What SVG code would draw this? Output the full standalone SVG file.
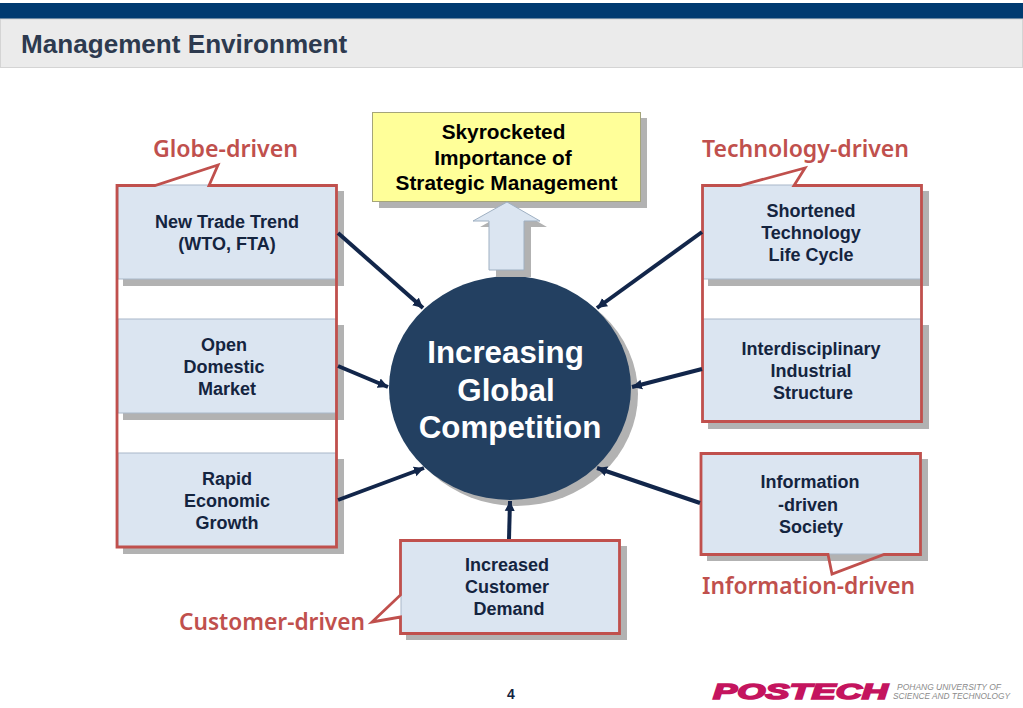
<svg xmlns="http://www.w3.org/2000/svg" width="1023" height="708" viewBox="0 0 1023 708">
<style>
.sh{fill:#b2b2b2}
.box{fill:#dbe5f1;stroke:#a9b8c9;stroke-width:1}
.out{fill:none;stroke:#c0504d;stroke-width:2.800;stroke-linejoin:miter}
.t{font-family:"Liberation Sans",Arial,sans-serif;font-weight:700;font-size:18px;fill:#14243f;text-anchor:middle}
.k{fill:#000;font-size:20.800px}
.c{font-family:"Liberation Sans",Arial,sans-serif;font-weight:700;font-size:31.300px;fill:#fff;text-anchor:middle}
.r{font-family:"Noto Sans",sans-serif;font-weight:600;font-size:23px;fill:#c0504d}
.ln{stroke:#12264a;stroke-width:4;fill:none;marker-end:url(#ah)}
</style>
<defs>
<marker id="ah" markerUnits="userSpaceOnUse" markerWidth="11" markerHeight="11" refX="10" refY="5.500" orient="auto">
<path d="M0 0.500L10 5.500L0 10.500Z" fill="#12264a"/>
</marker>
</defs>
<rect width="1023" height="708" fill="#fff"/>
<g id="header">
<rect x="0" y="3" width="1023" height="16" fill="#003a70"/>
<rect x="0.5" y="19" width="1022" height="48.5" fill="#ebebeb" stroke="#d4d4d4"/>
<text x="21" y="53" font-family="'Liberation Sans',Arial,sans-serif" font-weight="700" font-size="26.100px" fill="#2d3a4f">Management Environment</text>
</g>
<g id="circle">
<ellipse cx="517" cy="394" rx="121" ry="112" fill="#b2b2b2"/>
<ellipse cx="510" cy="388" rx="121" ry="112" fill="#234061"/>
<text class="c" x="505.500" y="363">Increasing</text>
<text class="c" x="506" y="401">Global</text>
<text class="c" x="510" y="438">Competition</text>
</g>
<g id="top-box">
<rect class="sh" x="379" y="118" width="268" height="90"/>
<rect x="372.500" y="112.500" width="268" height="89" fill="#ffff99" stroke="#a5a57a"/>
<text class="t k" x="503.500" y="139">Skyrocketed</text>
<text class="t k" x="503" y="165">Importance of</text>
<text class="t k" x="506.500" y="190">Strategic Management</text>
</g>
<g id="arrow-up">
<path class="sh" d="M496 277V227H480L514 208L547 227H531V277Z"/>
<path d="M489 270V221H473L507 202L540 221H524V270Z" fill="#dbe5f1" stroke="#9fb0c2"/>
</g>
<g id="globe-driven">
<rect class="sh" x="123" y="191" width="221" height="95"/>
<rect class="sh" x="123" y="325" width="221" height="95"/>
<rect class="sh" x="123" y="459" width="221" height="95"/>
<rect class="box" x="118" y="185" width="218" height="94"/>
<rect class="box" x="118" y="319" width="218" height="94"/>
<rect class="box" x="118" y="453" width="218" height="94"/>
<path class="out" d="M117 185.500H155L218 165L209 185.500H336.500V547H117Z"/>
<text class="r" x="153" y="157" textLength="145" lengthAdjust="spacingAndGlyphs">Globe-driven</text>
<text class="t" x="227" y="228">New Trade Trend</text>
<text class="t" x="227" y="250">(WTO, FTA)</text>
<text class="t" x="224" y="351">Open</text>
<text class="t" x="224" y="373">Domestic</text>
<text class="t" x="227" y="395">Market</text>
<text class="t" x="227" y="485">Rapid</text>
<text class="t" x="227" y="507">Economic</text>
<text class="t" x="227" y="529">Growth</text>
</g>
<g id="technology-driven">
<rect class="sh" x="708" y="191" width="221" height="95"/>
<rect class="sh" x="708" y="325" width="221" height="104"/>
<rect class="box" x="703" y="185" width="218" height="94"/>
<rect class="box" x="703" y="319" width="218" height="103"/>
<path class="out" d="M702.500 185.500H740L805 168L794 185.500H921.500V421.500H702.500Z"/>
<text class="r" x="702" y="157" textLength="207" lengthAdjust="spacingAndGlyphs">Technology-driven</text>
<text class="t" x="811" y="217">Shortened</text>
<text class="t" x="811" y="239">Technology</text>
<text class="t" x="811" y="261">Life Cycle</text>
<text class="t" x="811" y="355">Interdisciplinary</text>
<text class="t" x="811" y="377">Industrial</text>
<text class="t" x="813" y="399">Structure</text>
</g>
<g id="information-driven">
<rect class="sh" x="707" y="459" width="221" height="102"/>
<rect class="box" x="701" y="453" width="220" height="101"/>
<path class="out" d="M701 453.500H920.500V554.500H884L832 574L828 554.500H701Z"/>
<text class="r" x="702" y="594" textLength="213" lengthAdjust="spacingAndGlyphs">Information-driven</text>
<text class="t" x="810" y="488">Information</text>
<text class="t" x="808" y="511">-driven</text>
<text class="t" x="811" y="533">Society</text>
</g>
<g id="customer-driven">
<rect class="sh" x="406" y="546" width="221" height="94"/>
<rect class="box" x="401" y="540" width="219" height="94"/>
<path class="out" d="M400.500 540.500H619.500V633.500H400.500V617L372 622L400.500 595Z"/>
<text class="r" x="179" y="630" textLength="186" lengthAdjust="spacingAndGlyphs">Customer-driven</text>
<text class="t" x="507" y="571">Increased</text>
<text class="t" x="507" y="593">Customer</text>
<text class="t" x="509" y="615">Demand</text>
</g>
<g id="connectors">
<path class="ln" d="M338 233L423 308"/>
<path class="ln" d="M338 366L388 387"/>
<path class="ln" d="M338 500L424 468"/>
<path class="ln" d="M702 232L597 308"/>
<path class="ln" d="M702 369L632 387"/>
<path class="ln" d="M700 503L597 468"/>
<path class="ln" d="M509 539L510 501"/>
</g>
<g id="footer">
<text x="511" y="699" font-family="'Liberation Sans',Arial,sans-serif" font-weight="700" font-size="14px" fill="#14243f" text-anchor="middle">4</text>
<text x="713" y="699" font-family="'Liberation Sans',Arial,sans-serif" font-weight="700" font-style="italic" font-size="22px" fill="#c4145e" stroke="#c4145e" stroke-width="1.6" textLength="175" lengthAdjust="spacingAndGlyphs">POSTECH</text>
<text x="897" y="690" font-family="'Liberation Sans',sans-serif" font-style="italic" font-size="8.500px" fill="#8a8a8a" textLength="104" lengthAdjust="spacingAndGlyphs">POHANG UNIVERSITY OF</text>
<text x="893" y="699" font-family="'Liberation Sans',sans-serif" font-style="italic" font-size="8.500px" fill="#8a8a8a" textLength="117" lengthAdjust="spacingAndGlyphs">SCIENCE AND TECHNOLOGY</text>
</g>
</svg>
